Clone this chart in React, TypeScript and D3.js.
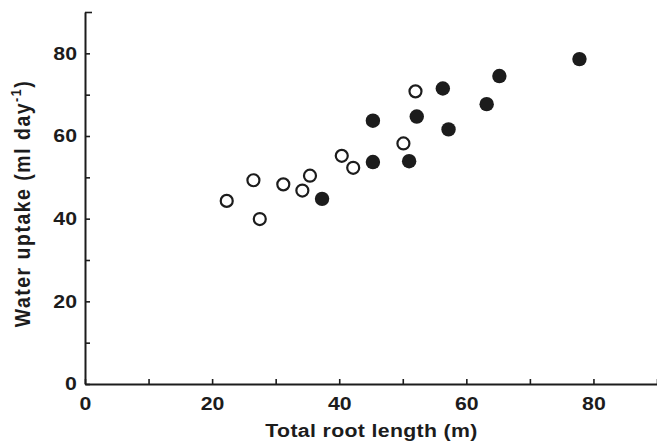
import React, { useEffect, useRef } from 'react';
import * as d3 from 'd3';

// open circles
const openLength = [22.3, 26.5, 27.5, 31.2, 34.2, 35.4, 40.4, 42.2, 50.1, 52.0];
const openUptake = [44.3, 49.3, 39.9, 48.3, 46.8, 50.4, 55.2, 52.3, 58.2, 70.8];
// filled circles
const filledLength = [37.3, 45.3, 45.3, 51.0, 52.2, 56.3, 57.2, 63.2, 65.2, 77.8];
const filledUptake = [44.8, 63.7, 53.7, 53.9, 64.7, 71.5, 61.6, 67.7, 74.5, 78.6];

const xTicks = [0, 10, 20, 30, 40, 50, 60, 70, 80, 90];
const yTicks = [0, 10, 20, 30, 40, 50, 60, 70, 80, 90];
const labelled = [0, 20, 40, 60, 80];

const width = 657, height = 442;
const ink = '#1c1c1c';
const font = '"Liberation Sans", Arial, Helvetica, sans-serif';

export default function App() {
  const ref = useRef<SVGSVGElement>(null);

  useEffect(() => {
    const svg = d3.select(ref.current);
    svg.selectAll('*').remove();

    const x = d3.scaleLinear().domain([0, 90]).range([85, 657]);
    const y = d3.scaleLinear().domain([0, 90]).range([384, 12]);
    const fmt = (d: any) => (labelled.includes(d) ? String(d) : '');

    const gx = svg.append('g')
      .attr('transform', 'translate(0,384)')
      .call(d3.axisBottom(x).tickValues(xTicks).tickFormat(fmt).tickSizeInner(-5).tickSizeOuter(0).tickPadding(13));

    const gy = svg.append('g')
      .attr('transform', 'translate(85,0)')
      .call(d3.axisLeft(y).tickValues(yTicks).tickFormat(fmt).tickSizeInner(-5).tickSizeOuter(0).tickPadding(7));

    [gx, gy].forEach(g => {
      g.select('.domain').attr('stroke', ink).attr('stroke-width', 2);
      g.selectAll('.tick line').attr('stroke', ink).attr('stroke-width', 1.6);
      g.selectAll('.tick text')
        .attr('fill', ink)
        .attr('transform', 'scale(1.15,1)')
        .style('font-family', font)
        .style('font-size', '18.5px')
        .style('font-weight', 'bold');
    });
    // top tick of y axis a bit longer
    gy.selectAll('.tick line').filter((d: any) => d === 90).attr('x2', 7);

    svg.append('g').selectAll('circle')
      .data(openLength.map((v, i) => [v, openUptake[i]]))
      .join('circle')
      .attr('cx', d => x(d[0]))
      .attr('cy', d => y(d[1]))
      .attr('r', 6)
      .attr('fill', '#fff')
      .attr('stroke', ink)
      .attr('stroke-width', 2.2);

    svg.append('g').selectAll('circle')
      .data(filledLength.map((v, i) => [v, filledUptake[i]]))
      .join('circle')
      .attr('cx', d => x(d[0]))
      .attr('cy', d => y(d[1]))
      .attr('r', 7.2)
      .attr('fill', ink);

    svg.append('text')
      .attr('transform', 'translate(371.5,437) scale(1.15,1)')
      .attr('text-anchor', 'middle')
      .attr('fill', ink)
      .style('font-family', font)
      .style('font-size', '18.5px')
      .style('font-weight', 'bold')
      .style('letter-spacing', '0.3px')
      .text('Total root length (m)');

    const yt = svg.append('text')
      .attr('transform', 'translate(30,203.5) scale(1.15,1) rotate(-90)')
      .attr('text-anchor', 'middle')
      .attr('fill', ink)
      .style('font-family', font)
      .style('font-size', '19.5px')
      .style('font-weight', 'bold')
      .style('letter-spacing', '1.5px');
    yt.append('tspan').text('Water uptake (ml day');
    yt.append('tspan').attr('dy', -8).style('font-size', '12.5px').text('-1');
    yt.append('tspan').attr('dy', 8).text(')');
  }, []);

  return (
    <svg ref={ref} width={width} height={height}
      style={{ position: 'absolute', left: 0, top: 0, background: '#fff' }} />
  );
}
